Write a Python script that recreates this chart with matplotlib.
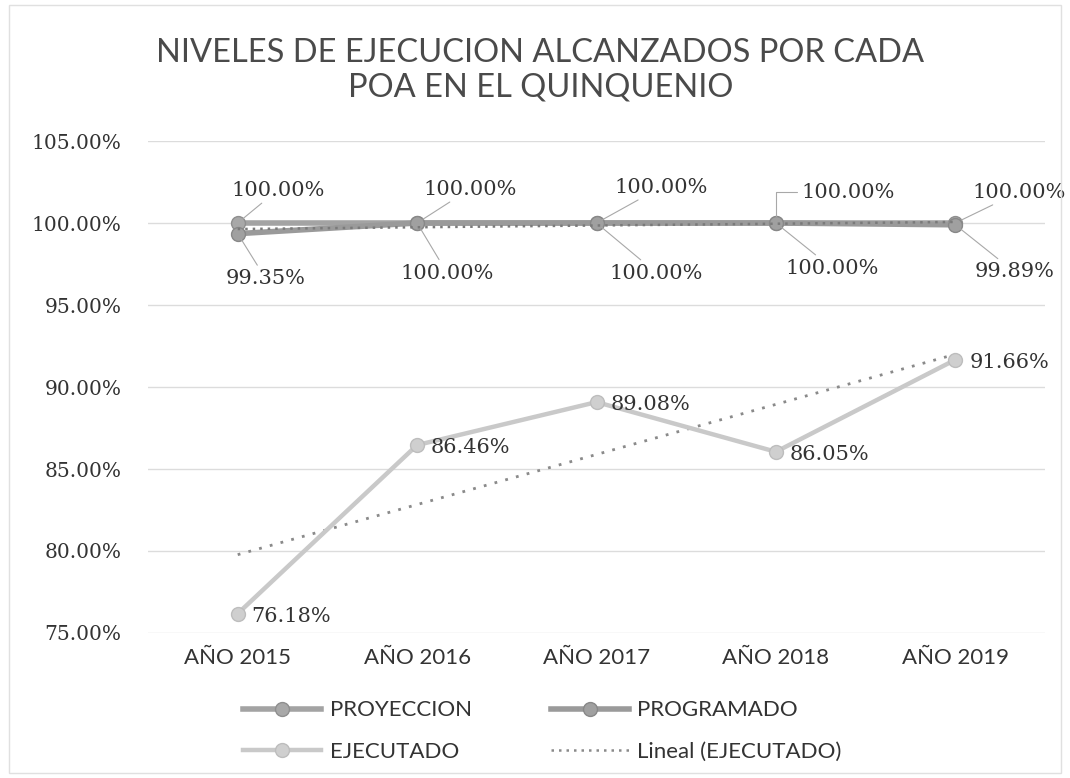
import numpy as np
import matplotlib
matplotlib.use("Agg")
import matplotlib.pyplot as plt
from matplotlib.lines import Line2D
from matplotlib.patches import Rectangle

# ---- data ----
categories = ["AÑO 2015", "AÑO 2016", "AÑO 2017", "AÑO 2018", "AÑO 2019"]
proyeccion = [100.00, 100.00, 100.00, 100.00, 100.00]
programado = [99.35, 100.00, 100.00, 100.00, 99.89]
ejecutado = [76.18, 86.46, 89.08, 86.05, 91.66]
yticks = [75, 80, 85, 90, 95, 100, 105]
title = "NIVELES DE EJECUCION ALCANZADOS POR CADA\nPOA EN EL QUINQUENIO"

SANS = ["Lato", "DejaVu Sans"]
SERIF = ["DejaVu Serif"]

fig = plt.figure(figsize=(10.70, 7.78), dpi=100)
fig.patch.set_facecolor("white")
ax = fig.add_axes([148 / 1070, 1 - 633 / 778, (1045 - 148) / 1070, (633 - 141) / 778])

x = np.arange(len(categories))

ax.set_ylim(75, 105)
ax.set_xlim(-0.5, len(categories) - 0.5)
ax.set_yticks(yticks)
ax.yaxis.grid(True, color="#dcdcdc", lw=1.0)
ax.set_axisbelow(True)
for s in ax.spines.values():
    s.set_visible(False)
ax.tick_params(length=0)
ax.tick_params(axis="y", pad=19, labelsize=14.5, labelcolor="#333333")
ax.tick_params(axis="x", pad=11, labelsize=16, labelcolor="#333333")
ax.set_yticklabels([f"{v:.2f}%" for v in yticks], family=SERIF)
ax.set_xticks(x)
ax.set_xticklabels(categories, family=SANS)

# trendlines
c_e = np.polyfit(x + 1, ejecutado, 1)
c_p = np.polyfit(x + 1, programado, 1)
ax.plot(x, np.polyval(c_p, x + 1), ls=(0, (1, 2)), color="#7a7a7a", lw=1.8, zorder=4)
ax.plot(x, np.polyval(c_e, x + 1), ls=(0, (1, 3)), color="#8a8a8a", lw=2.0, zorder=2)

# series
l_proy, = ax.plot(x, proyeccion, color="#a3a3a3", lw=4, marker="o", ms=10,
                  mfc="#a8a8a8", mec="#8f8f8f", mew=1, zorder=3)
l_prog, = ax.plot(x, programado, color="#9a9a9a", lw=4, marker="o", ms=10,
                  mfc="#a0a0a0", mec="#888888", mew=1, zorder=3)
l_ejec, = ax.plot(x, ejecutado, color="#c9c9c9", lw=3.2, marker="o", ms=10,
                  mfc="#cfcfcf", mec="#bdbdbd", mew=1, zorder=3)

# data labels
LBL = 15
ann_kw = dict(family=SERIF, fontsize=LBL, color="#333333", ha="center", va="center")
arrow = dict(arrowstyle="-", color="#a8a8a8", lw=0.8, shrinkA=1, shrinkB=5)
top_off = [(40, 33), (53, 34), (65, 36), (72, 31), (64, 31)]
bot_off = [(28, -45), (30, -50), (60, -50), (56, -45), (59, -47)]
for i, v in enumerate(proyeccion):
    ap = dict(arrow)
    if i == 3:
        ap["connectionstyle"] = "angle,angleA=0,angleB=90,rad=0"
    dx, dy = top_off[i]
    ax.annotate(f"{v:.2f}%", (x[i], v), xytext=(dx * 0.72, dy * 0.72),
                textcoords="offset points", arrowprops=ap, **ann_kw)
for i, v in enumerate(programado):
    dx, dy = bot_off[i]
    ax.annotate(f"{v:.2f}%", (x[i], v), xytext=(dx * 0.72, dy * 0.72),
                textcoords="offset points", arrowprops=arrow, **ann_kw)
for i, v in enumerate(ejecutado):
    ax.annotate(f"{v:.2f}%", (x[i], v), xytext=(10, -2),
                textcoords="offset points", family=SERIF, fontsize=LBL,
                color="#333333", ha="left", va="center")

# title
fig.text(0.505, 1 - 70 / 778, title, ha="center", va="center", family=SANS,
         fontweight="normal", fontsize=23.5, color="#4a4a4a", linespacing=1.2)

# legend
h_trend = Line2D([], [], ls=(0, (1, 2)), color="#8a8a8a", lw=1.8)
leg = fig.legend([l_proy, l_ejec, l_prog, h_trend],
                 ["PROYECCION", "EJECUTADO", "PROGRAMADO", "Lineal (EJECUTADO)"],
                 ncol=2, loc="center", bbox_to_anchor=(0.507, 1 - 731 / 778),
                 frameon=False, prop={"family": SANS, "size": 16},
                 handlelength=3.5, columnspacing=3.55, labelspacing=0.95,
                 handletextpad=0.4, labelcolor="#333333")

# chart border
fig.add_artist(Rectangle((0.008, 0.006), 0.984, 0.988, transform=fig.transFigure,
                         fill=False, ec="#e0e0e0", lw=1))

fig.savefig("out.png", dpi=100)
